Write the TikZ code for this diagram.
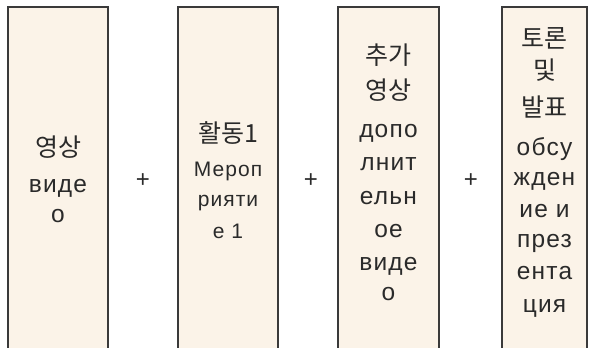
\documentclass[tikz,border=0pt]{standalone}
\usepackage{fontspec}
\setmainfont{Liberation Sans}[LetterSpace=5]
\newfontfamily\kr{Noto Sans CJK KR}
\definecolor{boxfill}{HTML}{FBF3E8}
\definecolor{boxline}{HTML}{3A3A3A}
\definecolor{txt}{HTML}{2A2A2A}
\tikzset{
  panel/.style={draw=boxline, line width=1.3pt, fill=boxfill},
  krtxt/.style={anchor=base, inner sep=0pt, text=txt, font=\kr\fontsize{25}{27}\selectfont},
  rutxt/.style={anchor=base, inner sep=0pt, text=txt, font=\fontsize{24.5}{27}\selectfont},
  rusmall/.style={anchor=base, inner sep=0pt, text=txt, font=\fontsize{21}{24}\selectfont},
  plus/.style={inner sep=0pt, text=txt, font=\fontsize{24}{26}\selectfont}
}
\begin{document}
\begin{tikzpicture}[x=1pt,y=-1pt]
\useasboundingbox (0,0) rectangle (592,348);
\clip (0,0) rectangle (592,348);
\draw[panel] (8,7) rectangle (108,360);
\draw[panel] (178,7) rectangle (278,360);
\draw[panel] (338,7) rectangle (439,360);
\draw[panel] (502,7) rectangle (587,360);
\node[plus] (p1) at (143,181) {+};
\node[plus] (p2) at (311,181) {+};
\node[plus] (p3) at (471,181) {+};
% box 1
\node[krtxt] (a1) at (58,156) {영상};
\node[rutxt] (a2) at (58,192) {виде};
\node[rutxt] (a3) at (58,222) {о};
% box 2
\node[krtxt] (b1) at (228,142) {활동1};
\node[rusmall] (b2) at (228,176) {Мероп};
\node[rusmall] (b3) at (228,206) {рияти};
\node[rusmall] (b4) at (228,238) {е 1};
% box 3
\node[krtxt] (c1) at (388.5,64) {추가};
\node[krtxt] (c2) at (388.5,99) {영상};
\node[rutxt] (c3) at (388.5,137) {допо};
\node[rutxt] (c4) at (388.5,170) {лнит};
\node[rutxt] (c5) at (388.5,204) {ельн};
\node[rutxt] (c6) at (388.5,237) {ое};
\node[rutxt] (c7) at (388.5,270) {виде};
\node[rutxt] (c8) at (388.5,300) {о};
% box 4
\node[krtxt] (d1) at (544.5,47) {토론};
\node[krtxt] (d2) at (544.5,79) {및};
\node[krtxt] (d3) at (544.5,116) {발표};
\node[rutxt] (d4) at (544.5,155) {обсу};
\node[rutxt] (d5) at (544.5,185) {жден};
\node[rutxt] (d6) at (544.5,217) {ие и};
\node[rutxt] (d7) at (544.5,247) {през};
\node[rutxt] (d8) at (544.5,279) {ента};
\node[rutxt] (d9) at (544.5,312) {ция};
\end{tikzpicture}
\end{document}
